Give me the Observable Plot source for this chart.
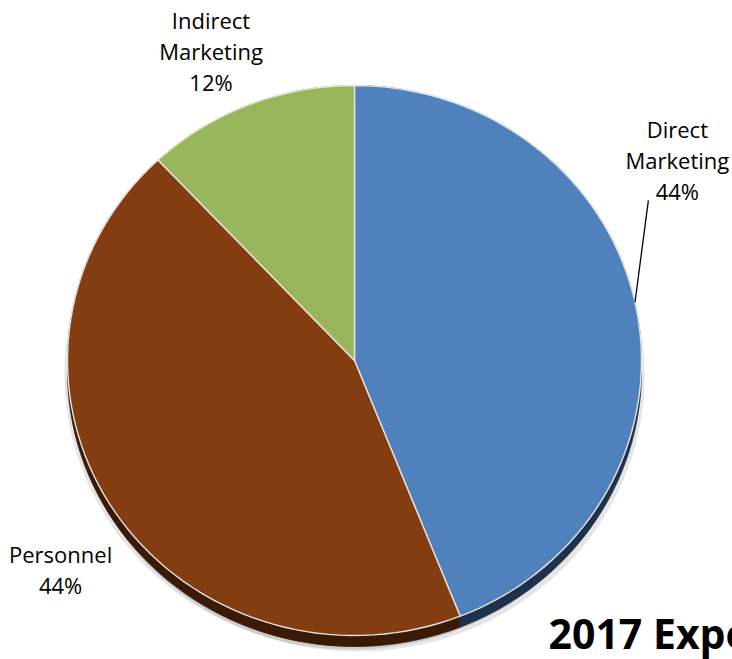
<!DOCTYPE html>
<html>
<head>
<meta charset="utf-8">
<script src="https://cdn.jsdelivr.net/npm/d3@7"></script>
<script src="https://cdn.jsdelivr.net/npm/@observablehq/plot@0.6"></script>
<style>
  html, body { margin: 0; padding: 0; background: #fff; overflow: hidden; }
  #chart { width: 732px; height: 659px; overflow: hidden; }
</style>
</head>
<body>
<div id="chart"></div>
<script>
const categories = ["Direct Marketing", "Personnel", "Indirect Marketing"];
const shares = [44, 44, 12];
const labels = ["Direct\nMarketing\n44%", "Personnel\n44%", "Indirect\nMarketing\n12%"];
const title = "2017 Expenses";

const colors = ["#4F81BD", "#843C11", "#98B65A"];
const sideColors = ["#1E324D", "#3A1905", "#4B5F2B"];

const W = 732, H = 659;
const depth = 11 / 275; // extrusion in y units
const N = 160;

const arcs = d3.pie().sort(null).value(d => d)(shares);
const pt = a => ({x: Math.sin(a), y: Math.cos(a)});

function arcPoints(a0, a1) {
  const n = Math.max(2, Math.ceil(N * (a1 - a0) / (2 * Math.PI)));
  return d3.range(n + 1).map(i => pt(a0 + (a1 - a0) * i / n));
}

const marks = [];
// soft shadow
const ell = arcPoints(0, 2 * Math.PI);
marks.push(Plot.line(ell, {x: "x", y: "y", fill: "#000", fillOpacity: 0.10, stroke: "none", dx: -3, dy: 14}));
marks.push(Plot.line(ell, {x: "x", y: "y", fill: "#000", fillOpacity: 0.10, stroke: "none", dx: 3, dy: 16}));

// sides
arcs.forEach((a, i) => {
  const top = arcPoints(a.startAngle, a.endAngle);
  const band = top.concat(top.slice().reverse().map(p => ({x: p.x, y: p.y - depth})));
  marks.push(Plot.line(band, {x: "x", y: "y", fill: sideColors[i], stroke: sideColors[i], strokeWidth: 0.8}));
});
// top faces
arcs.forEach((a, i) => {
  const poly = [{x: 0, y: 0}, ...arcPoints(a.startAngle, a.endAngle), {x: 0, y: 0}];
  marks.push(Plot.line(poly, {x: "x", y: "y", fill: colors[i], stroke: "#e4e4e4", strokeWidth: 1.4, strokeLinejoin: "round"}));
});

// labels
const font = "Open Sans, Lato, sans-serif";
const labelPos = [{x: 1.125, y: 0.731}, {x: -1.024, y: -0.756}, {x: -0.5, y: 1.127}];
marks.push(Plot.text(labels.map((t, i) => ({t, ...labelPos[i]})), {
  x: "x", y: "y", text: "t", fontSize: 22, lineHeight: 31 / 22, fill: "#000",
  fontFamily: font, textAnchor: "middle"
}));

// leader line for Direct Marketing
const mid0 = (arcs[0].startAngle + arcs[0].endAngle) / 2 - 0.025;
const e0 = pt(mid0);
marks.push(Plot.link([{x1: e0.x, y1: e0.y, x2: 1.024, y2: 0.582}], {
  x1: "x1", y1: "y1", x2: "x2", y2: "y2", stroke: "#000", strokeWidth: 1.3
}));

// title
marks.push(Plot.text([title], {
  frameAnchor: "bottom-left", text: d => d, dx: 548, dy: -11,
  fontSize: 41, fontWeight: "bold", fontFamily: "Open Sans, sans-serif", fill: "#000", textAnchor: "start"
}));

const chart = Plot.plot({
  width: W, height: H,
  margin: 0,
  x: {domain: [-1, 1], range: [67, 641], axis: null},
  y: {domain: [-1, 1], range: [635, 85], axis: null},
  style: {background: "#fff", overflow: "visible"},
  marks
});
document.getElementById("chart").appendChild(chart);
</script>
</body>
</html>
